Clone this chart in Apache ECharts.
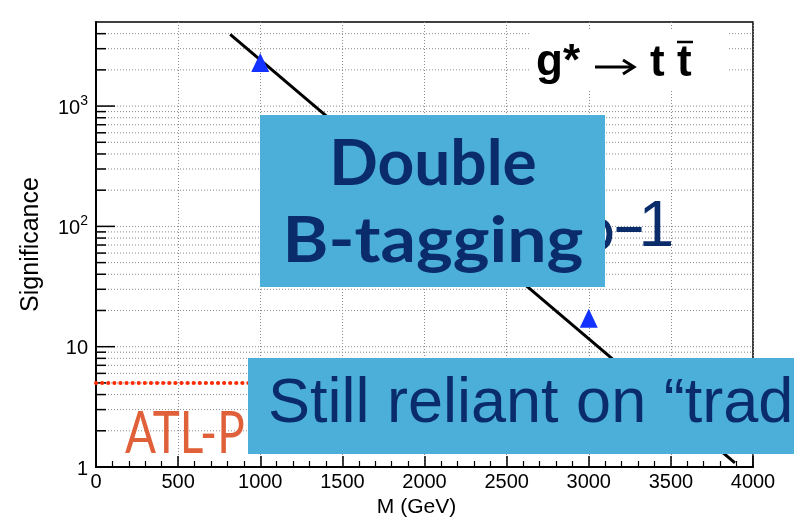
<!DOCTYPE html>
<html><head><meta charset="utf-8">
<script src="https://cdn.jsdelivr.net/npm/echarts@6/dist/echarts.min.js"></script>
<style>html,body{margin:0;padding:0;background:#fff}#c{width:794px;height:531px}</style>
</head><body><div id="c"></div>
<script>
// ---- data ----
const xTickValues = [0, 500, 1000, 1500, 2000, 2500, 3000, 3500, 4000];
const yDecades = [1, 10, 100, 1000];
const yGridValues = [2,3,4,5,6,7,8,9,10,20,30,40,50,60,70,80,90,100,200,300,400,500,600,700,800,900,1000,2000,3000,4000];
const fitLine = [[817, 3940], [3890, 1.08]];
const signalPoints = [[1000, 2300], [3000, 17.2]];
const thresholdLine = [[0, 5], [4000, 5]];
const xName = 'M (GeV)';
const yName = 'Significance';

const chart = echarts.init(document.getElementById('c'), null, {renderer: 'canvas'});
const FONT = '"Liberation Sans", Arial, Helvetica, sans-serif';
const NAVY = '#0b2c6b';
const BOX = '#4bafd9';

const option = {
  backgroundColor: '#fff',
  animation: false,
  grid: {left: 96, right: 41, top: 22, bottom: 64, show: true, borderColor: '#000', borderWidth: 1.5, backgroundColor: 'transparent'},
  xAxis: {
    type: 'value', min: xTickValues[0], max: xTickValues[xTickValues.length - 1], interval: 500,
    name: xName, nameLocation: 'middle', nameGap: 29,
    nameTextStyle: {fontFamily: FONT, fontSize: 21, color: '#000', padding: [0, 16, 0, 0]},
    axisLine: {show: true, lineStyle: {color: '#000', width: 2}},
    axisTick: {show: true, inside: true, length: 11, lineStyle: {color: '#000', width: 1.5}},
    minorTick: {show: true, splitNumber: 5, length: 6, lineStyle: {color: '#000', width: 1.2}},
    axisLabel: {fontFamily: FONT, fontSize: 20, color: '#000', margin: 5, formatter: v => String(v)},
    splitLine: {show: true, lineStyle: {color: '#8a8a8a', width: 1, type: [1, 2]}}
  },
  yAxis: {
    type: 'log', logBase: 10, min: 1, max: 5000,
    name: yName, nameLocation: 'middle', nameGap: 52,
    nameTextStyle: {fontFamily: FONT, fontSize: 25, color: '#000'},
    axisLine: {show: true, lineStyle: {color: '#000', width: 2}},
    axisTick: {show: false},
    splitLine: {show: false},
    axisLabel: {
      fontFamily: FONT, fontSize: 20, color: '#000', margin: 8, showMaxLabel: false,
      formatter: function (v) {
        const e = Math.round(Math.log10(v));
        if (Math.abs(Math.log10(v) - e) > 1e-6) return '';
        if (e === 0) return '{b|1}';
        if (e === 1) return '{b|10}';
        return '{b|10}{s|' + e + '}';
      },
      rich: {
        b: {fontFamily: FONT, fontSize: 20, color: '#000', verticalAlign: 'bottom', lineHeight: 24},
        s: {fontFamily: FONT, fontSize: 14, color: '#000', verticalAlign: 'top', lineHeight: 24}
      }
    }
  },
  series: [
    {
      type: 'custom', silent: true, z: 1,
      data: yGridValues.map(v => [0, v]),
      encode: {x: 0, y: 1},
      renderItem: function (params, api) {
        const v = api.value(1);
        const p0 = api.coord([0, v]);
        const p1 = api.coord([4000, v]);
        const major = yDecades.indexOf(v) >= 0;
        const len = major ? 19 : 10;
        return {type: 'group', children: [
          {type: 'line', shape: {x1: p0[0], y1: p0[1], x2: p1[0], y2: p1[1]}, style: {stroke: '#8a8a8a', lineWidth: 1, lineDash: [1, 2]}},
          {type: 'line', shape: {x1: p0[0], y1: p0[1], x2: p0[0] + len, y2: p0[1]}, style: {stroke: '#000', lineWidth: 1.5}}
        ]};
      }
    },
    {
      type: 'line', data: thresholdLine, symbol: 'none', z: 3,
      lineStyle: {color: '#ff2a00', width: 4, type: [0.1, 6], cap: 'round'}
    },
    {
      type: 'line', data: fitLine, symbol: 'none', z: 4,
      lineStyle: {color: '#000', width: 3}
    },
    {
      type: 'scatter', data: signalPoints, symbol: 'triangle', symbolSize: [18, 19], z: 5,
      itemStyle: {color: '#1432ff', opacity: 1}
    }
  ],
  graphic: [
    // process label with white background
    {type: 'rect', z: 50, shape: {x: 530, y: 30, width: 198, height: 60}, style: {fill: '#fff'}},
    {type: 'text', z: 51, x: 536, y: 63, style: {text: 'g*', font: 'bold 44px ' + FONT, fill: '#000', textAlign: 'left', textVerticalAlign: 'middle'}},
    {type: 'line', z: 51, shape: {x1: 595, y1: 67, x2: 633, y2: 67}, style: {stroke: '#000', lineWidth: 3}},
    {type: 'polyline', z: 51, shape: {points: [[623, 60], [634, 67], [623, 74]]}, style: {stroke: '#000', lineWidth: 3, fill: null}},
    {type: 'text', z: 51, x: 650, y: 64, style: {text: 't', font: 'bold 44px ' + FONT, fill: '#000', textAlign: 'left', textVerticalAlign: 'middle'}},
    {type: 'text', z: 51, x: 677, y: 64, style: {text: 't', font: 'bold 44px ' + FONT, fill: '#000', textAlign: 'left', textVerticalAlign: 'middle'}},
    {type: 'line', z: 51, shape: {x1: 677, y1: 42, x2: 693, y2: 42}, style: {stroke: '#000', lineWidth: 2.5}},
    // orange label
    {type: 'text', z: 60, x: 125, y: 434, scaleX: 0.79, style: {text: 'ATL-P', font: 'normal 58px Lato, "Open Sans", sans-serif', fill: '#e0603a', textAlign: 'left', textVerticalAlign: 'middle'}},
    // partly hidden text behind box ("...o-1")
    {type: 'text', z: 60, x: 615, y: 230, style: {text: 'o', font: 'normal 64px Lato, sans-serif', fill: NAVY, textAlign: 'right', textVerticalAlign: 'middle'}},
    {type: 'text', z: 60, x: 612, y: 229, scaleX: 1.6, style: {text: '-', font: 'normal 64px ' + FONT, fill: NAVY, textAlign: 'left', textVerticalAlign: 'middle'}},
    {type: 'text', z: 60, x: 674, y: 228, style: {text: '1', font: 'normal 64px ' + FONT, fill: NAVY, textAlign: 'right', textVerticalAlign: 'middle'}},
    // Double B-tagging box
    {type: 'rect', z: 100, shape: {x: 260, y: 115, width: 345, height: 172}, style: {fill: BOX}},
    {type: 'text', z: 101, x: 433, y: 164, style: {text: 'Double', font: 'bold 64px Lato, sans-serif', fill: NAVY, textAlign: 'center', textVerticalAlign: 'middle'}},
    {type: 'text', z: 101, x: 433, y: 241, scaleX: 1.09, style: {text: 'B-tagging', font: 'bold 64px Lato, sans-serif', fill: NAVY, textAlign: 'center', textVerticalAlign: 'middle'}},
    // Still reliant box
    {type: 'rect', z: 100, shape: {x: 248, y: 358, width: 600, height: 96}, style: {fill: BOX}},
    {type: 'text', z: 101, x: 268, y: 405, style: {text: 'Still reliant on \u201ctrad', font: 'normal 63px ' + FONT, fill: NAVY, textAlign: 'left', textVerticalAlign: 'middle'}}
  ]
};
chart.setOption(option);
</script>
</body></html>
